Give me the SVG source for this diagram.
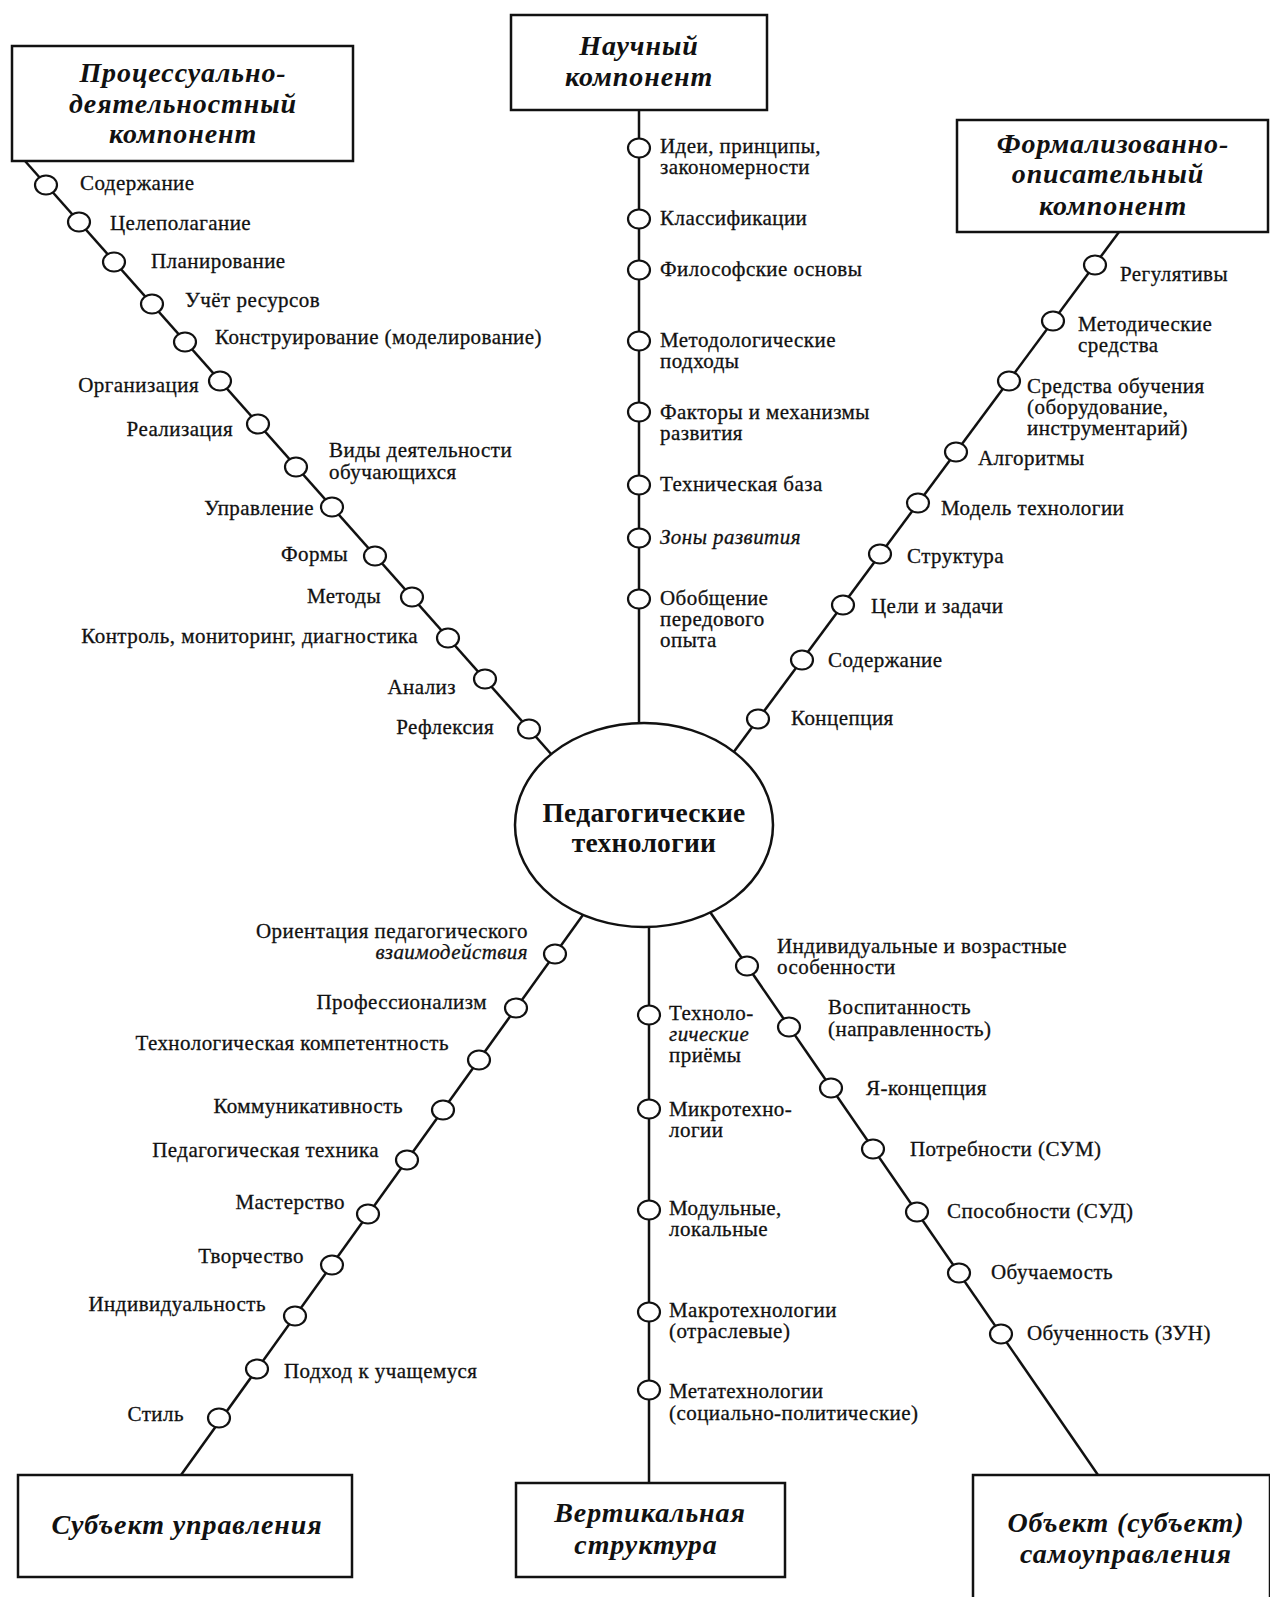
<svg xmlns="http://www.w3.org/2000/svg" width="1270" height="1597" viewBox="0 0 1270 1597">
<style>
.lbl{font-family:"Liberation Serif","Times New Roman",serif;font-size:21px;letter-spacing:0.45px;fill:#111;stroke:#111;stroke-width:0.3}
.r{text-anchor:end}
.it{font-style:italic}
.ttl{font-family:"Liberation Serif","Times New Roman",serif;font-weight:bold;font-style:italic;font-size:28px;letter-spacing:0.9px;fill:#111;text-anchor:middle}
.ctr{font-family:"Liberation Serif","Times New Roman",serif;font-weight:bold;font-size:27.5px;letter-spacing:0.3px;fill:#111;text-anchor:middle}
.dot{fill:#fff;stroke:#111;stroke-width:2.2}
.box{fill:#fff;stroke:#111;stroke-width:2.5}
.conn{stroke:#111;stroke-width:2.5;fill:none}
</style>
<rect width="1270" height="1597" fill="#fff"/>
<g id="connectors">
<line class="conn" x1="25" y1="161" x2="560" y2="764"/>
<line class="conn" x1="639" y1="110" x2="639" y2="760"/>
<line class="conn" x1="1119" y1="232" x2="713" y2="780"/>
<line class="conn" x1="608" y1="880" x2="181" y2="1475"/>
<line class="conn" x1="649" y1="880" x2="649" y2="1483"/>
<line class="conn" x1="688" y1="880" x2="1098" y2="1475"/>
</g>
<g id="box-process"><rect class="box" x="12" y="46" width="341" height="115"/>
<text class="ttl" x="183" y="82">Процессуально-</text><text class="ttl" x="183" y="113">деятельностный</text><text class="ttl" x="183" y="143">компонент</text></g>
<g id="box-science"><rect class="box" x="511" y="15" width="256" height="95"/>
<text class="ttl" x="639" y="55">Научный</text><text class="ttl" x="639" y="86">компонент</text></g>
<g id="box-formal"><rect class="box" x="957" y="120" width="311" height="112"/>
<text class="ttl" x="1113" y="153">Формализованно-</text><text class="ttl" x="1108" y="183">описательный</text><text class="ttl" x="1113" y="215">компонент</text></g>
<g id="box-subject"><rect class="box" x="18" y="1475" width="334" height="102"/>
<text class="ttl" x="187" y="1534">Субъект управления</text></g>
<g id="box-vertical"><rect class="box" x="516" y="1483" width="269" height="94"/>
<text class="ttl" x="650" y="1522">Вертикальная</text><text class="ttl" x="646" y="1554">структура</text></g>
<g id="box-object"><rect class="box" x="973" y="1475" width="297" height="124"/>
<text class="ttl" x="1126" y="1532">Объект (субъект)</text><text class="ttl" x="1126" y="1563">самоуправления</text></g>
<g id="center"><ellipse class="box" cx="644" cy="825" rx="129" ry="102"/>
<text class="ctr" x="644" y="822">Педагогические</text><text class="ctr" x="644" y="852">технологии</text></g>

<g id="n-pd1"><ellipse class="dot" cx="46" cy="185" rx="11" ry="9.5"/><text class="lbl" x="80" y="190">Содержание</text></g>
<g id="n-pd2"><ellipse class="dot" cx="79" cy="222" rx="11" ry="9.5"/><text class="lbl" x="110" y="230">Целеполагание</text></g>
<g id="n-pd3"><ellipse class="dot" cx="114" cy="262" rx="11" ry="9.5"/><text class="lbl" x="151" y="268">Планирование</text></g>
<g id="n-pd4"><ellipse class="dot" cx="152" cy="304" rx="11" ry="9.5"/><text class="lbl" x="185" y="307">Учёт ресурсов</text></g>
<g id="n-pd5"><ellipse class="dot" cx="185" cy="342" rx="11" ry="9.5"/><text class="lbl" x="215" y="344">Конструирование (моделирование)</text></g>
<g id="n-pd6"><ellipse class="dot" cx="220" cy="381" rx="11" ry="9.5"/><text class="lbl r" x="199" y="392">Организация</text></g>
<g id="n-pd7"><ellipse class="dot" cx="258" cy="424" rx="11" ry="9.5"/><text class="lbl r" x="233" y="436">Реализация</text></g>
<g id="n-pd8"><ellipse class="dot" cx="296" cy="467" rx="11" ry="9.5"/><text class="lbl" x="329" y="457">Виды деятельности</text><text class="lbl" x="329" y="479">обучающихся</text></g>
<g id="n-pd9"><ellipse class="dot" cx="332" cy="507" rx="11" ry="9.5"/><text class="lbl r" x="314" y="515">Управление</text></g>
<g id="n-pd10"><ellipse class="dot" cx="375" cy="556" rx="11" ry="9.5"/><text class="lbl r" x="348" y="561">Формы</text></g>
<g id="n-pd11"><ellipse class="dot" cx="412" cy="597" rx="11" ry="9.5"/><text class="lbl r" x="381" y="603">Методы</text></g>
<g id="n-pd12"><ellipse class="dot" cx="448" cy="638" rx="11" ry="9.5"/><text class="lbl r" x="418" y="643">Контроль, мониторинг, диагностика</text></g>
<g id="n-pd13"><ellipse class="dot" cx="485" cy="679" rx="11" ry="9.5"/><text class="lbl r" x="456" y="694">Анализ</text></g>
<g id="n-pd14"><ellipse class="dot" cx="529" cy="729" rx="11" ry="9.5"/><text class="lbl r" x="494" y="734">Рефлексия</text></g>

<g id="n-sc1"><ellipse class="dot" cx="639" cy="148" rx="11" ry="9.5"/><text class="lbl" x="660" y="153">Идеи, принципы,</text><text class="lbl" x="660" y="174">закономерности</text></g>
<g id="n-sc2"><ellipse class="dot" cx="639" cy="219" rx="11" ry="9.5"/><text class="lbl" x="660" y="225">Классификации</text></g>
<g id="n-sc3"><ellipse class="dot" cx="639" cy="270" rx="11" ry="9.5"/><text class="lbl" x="660" y="276">Философские основы</text></g>
<g id="n-sc4"><ellipse class="dot" cx="639" cy="341" rx="11" ry="9.5"/><text class="lbl" x="660" y="347">Методологические</text><text class="lbl" x="660" y="368">подходы</text></g>
<g id="n-sc5"><ellipse class="dot" cx="639" cy="412" rx="11" ry="9.5"/><text class="lbl" x="660" y="419">Факторы и механизмы</text><text class="lbl" x="660" y="440">развития</text></g>
<g id="n-sc6"><ellipse class="dot" cx="639" cy="485" rx="11" ry="9.5"/><text class="lbl" x="660" y="491">Техническая база</text></g>
<g id="n-sc7"><ellipse class="dot" cx="639" cy="538" rx="11" ry="9.5"/><text class="lbl it" x="660" y="544">Зоны развития</text></g>
<g id="n-sc8"><ellipse class="dot" cx="639" cy="599" rx="11" ry="9.5"/><text class="lbl" x="660" y="605">Обобщение</text><text class="lbl" x="660" y="626">передового</text><text class="lbl" x="660" y="647">опыта</text></g>

<g id="n-fo1"><ellipse class="dot" cx="1095" cy="265" rx="11" ry="9.5"/><text class="lbl" x="1120" y="281">Регулятивы</text></g>
<g id="n-fo2"><ellipse class="dot" cx="1053" cy="321" rx="11" ry="9.5"/><text class="lbl" x="1078" y="331">Методические</text><text class="lbl" x="1078" y="352">средства</text></g>
<g id="n-fo3"><ellipse class="dot" cx="1009" cy="381" rx="11" ry="9.5"/><text class="lbl" x="1027" y="393">Средства обучения</text><text class="lbl" x="1027" y="414">(оборудование,</text><text class="lbl" x="1027" y="435">инструментарий)</text></g>
<g id="n-fo4"><ellipse class="dot" cx="956" cy="452" rx="11" ry="9.5"/><text class="lbl" x="978" y="465">Алгоритмы</text></g>
<g id="n-fo5"><ellipse class="dot" cx="918" cy="503" rx="11" ry="9.5"/><text class="lbl" x="941" y="515">Модель технологии</text></g>
<g id="n-fo6"><ellipse class="dot" cx="880" cy="554" rx="11" ry="9.5"/><text class="lbl" x="907" y="563">Структура</text></g>
<g id="n-fo7"><ellipse class="dot" cx="843" cy="605" rx="11" ry="9.5"/><text class="lbl" x="871" y="613">Цели и задачи</text></g>
<g id="n-fo8"><ellipse class="dot" cx="802" cy="660" rx="11" ry="9.5"/><text class="lbl" x="828" y="667">Содержание</text></g>
<g id="n-fo9"><ellipse class="dot" cx="758" cy="719" rx="11" ry="9.5"/><text class="lbl" x="791" y="725">Концепция</text></g>

<g id="n-su1"><ellipse class="dot" cx="555" cy="954" rx="11" ry="9.5"/><text class="lbl r" x="528" y="938">Ориентация педагогического</text><text class="lbl r it" x="528" y="959">взаимодействия</text></g>
<g id="n-su2"><ellipse class="dot" cx="516" cy="1008" rx="11" ry="9.5"/><text class="lbl r" x="487" y="1009">Профессионализм</text></g>
<g id="n-su3"><ellipse class="dot" cx="479" cy="1060" rx="11" ry="9.5"/><text class="lbl r" x="449" y="1050">Технологическая компетентность</text></g>
<g id="n-su4"><ellipse class="dot" cx="443" cy="1110" rx="11" ry="9.5"/><text class="lbl r" x="403" y="1113">Коммуникативность</text></g>
<g id="n-su5"><ellipse class="dot" cx="407" cy="1160" rx="11" ry="9.5"/><text class="lbl r" x="379" y="1157">Педагогическая техника</text></g>
<g id="n-su6"><ellipse class="dot" cx="368" cy="1214" rx="11" ry="9.5"/><text class="lbl r" x="345" y="1209">Мастерство</text></g>
<g id="n-su7"><ellipse class="dot" cx="332" cy="1265" rx="11" ry="9.5"/><text class="lbl r" x="304" y="1263">Творчество</text></g>
<g id="n-su8"><ellipse class="dot" cx="295" cy="1316" rx="11" ry="9.5"/><text class="lbl r" x="266" y="1311">Индивидуальность</text></g>
<g id="n-su9"><ellipse class="dot" cx="257" cy="1369" rx="11" ry="9.5"/><text class="lbl" x="284" y="1378">Подход к учащемуся</text></g>
<g id="n-su10"><ellipse class="dot" cx="219" cy="1418" rx="11" ry="9.5"/><text class="lbl r" x="184" y="1421">Стиль</text></g>

<g id="n-ve1"><ellipse class="dot" cx="649" cy="1015" rx="11" ry="9.5"/><text class="lbl" x="669" y="1020">Техноло-</text><text class="lbl it" x="669" y="1041">гические</text><text class="lbl" x="669" y="1062">приёмы</text></g>
<g id="n-ve2"><ellipse class="dot" cx="649" cy="1109" rx="11" ry="9.5"/><text class="lbl" x="669" y="1116">Микротехно-</text><text class="lbl" x="669" y="1137">логии</text></g>
<g id="n-ve3"><ellipse class="dot" cx="649" cy="1210" rx="11" ry="9.5"/><text class="lbl" x="669" y="1215">Модульные,</text><text class="lbl" x="669" y="1236">локальные</text></g>
<g id="n-ve4"><ellipse class="dot" cx="649" cy="1312" rx="11" ry="9.5"/><text class="lbl" x="669" y="1317">Макротехнологии</text><text class="lbl" x="669" y="1338">(отраслевые)</text></g>
<g id="n-ve5"><ellipse class="dot" cx="649" cy="1390" rx="11" ry="9.5"/><text class="lbl" x="669" y="1398">Метатехнологии</text><text class="lbl" x="669" y="1420">(социально-политические)</text></g>

<g id="n-ob1"><ellipse class="dot" cx="747" cy="966" rx="11" ry="9.5"/><text class="lbl" x="777" y="953">Индивидуальные и возрастные</text><text class="lbl" x="777" y="974">особенности</text></g>
<g id="n-ob2"><ellipse class="dot" cx="789" cy="1027" rx="11" ry="9.5"/><text class="lbl" x="828" y="1014">Воспитанность</text><text class="lbl" x="828" y="1036">(направленность)</text></g>
<g id="n-ob3"><ellipse class="dot" cx="831" cy="1088" rx="11" ry="9.5"/><text class="lbl" x="866" y="1095">Я-концепция</text></g>
<g id="n-ob4"><ellipse class="dot" cx="873" cy="1149" rx="11" ry="9.5"/><text class="lbl" x="910" y="1156">Потребности (СУМ)</text></g>
<g id="n-ob5"><ellipse class="dot" cx="917" cy="1212" rx="11" ry="9.5"/><text class="lbl" x="947" y="1218">Способности (СУД)</text></g>
<g id="n-ob6"><ellipse class="dot" cx="959" cy="1273" rx="11" ry="9.5"/><text class="lbl" x="991" y="1279">Обучаемость</text></g>
<g id="n-ob7"><ellipse class="dot" cx="1001" cy="1334" rx="11" ry="9.5"/><text class="lbl" x="1027" y="1340">Обученность (ЗУН)</text></g>
</svg>
